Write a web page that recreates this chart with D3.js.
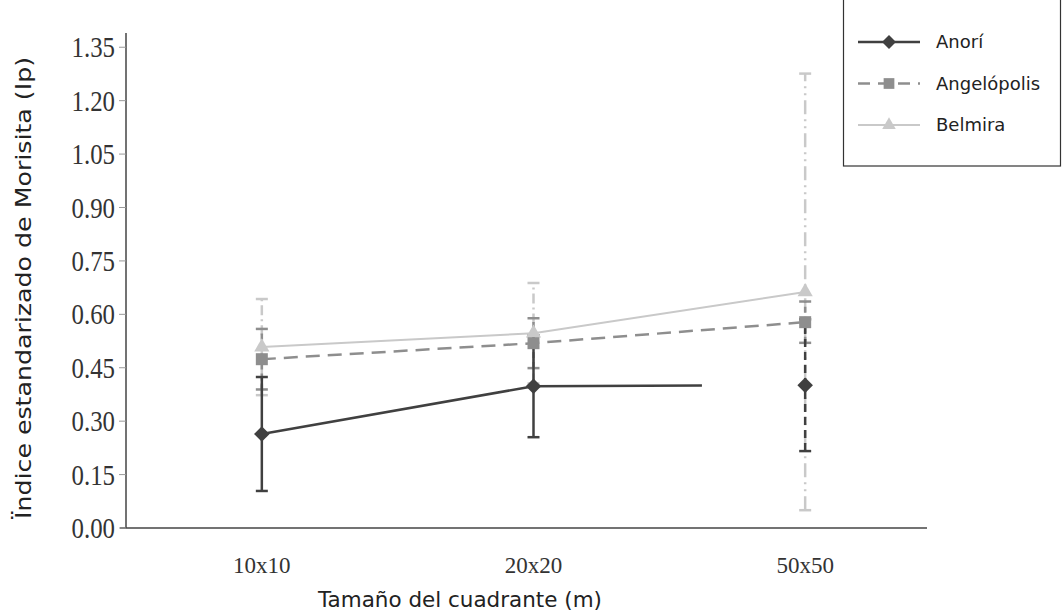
<!DOCTYPE html>
<html lang="es">
  <head>
    <meta charset="utf-8">
    <title>Índice de Morisita</title>
    <style>
      body { margin: 0; background: #fff; }
      svg { display: block; }
      .tick-label { font-family: "Liberation Serif", serif; font-size: 23px; fill: #333; }
      .title { font-family: "DejaVu Sans", sans-serif; font-size: 21px; fill: #222; }
      .legend text { font-family: "DejaVu Sans", sans-serif; font-size: 18px; fill: #222; }
    </style>
  </head>
  <body>
    <script src="https://cdn.jsdelivr.net/npm/d3@7"></script>
    <script>

    var categories = ["10x10", "20x20", "50x50"];
    var yTicks = [0, 0.15, 0.30, 0.45, 0.60, 0.75, 0.90, 1.05, 1.20, 1.35];

    var anori = [0.264, 0.398, 0.401],
        anoriErr = [0.16, 0.143, 0.185];
    var angelopolis = [0.474, 0.519, 0.578],
        angelopolisErr = [0.085, 0.07, 0.058];
    var belmira = [0.508, 0.547, 0.663],
        belmiraErr = [0.135, 0.141, 0.613];

    // the Anorí line stops part way to the last category
    var anoriReach = 0.62;

    var w = 1063, h = 615;

    var svg = d3.select("body").append("svg")
        .attr("width", w)
        .attr("height", h);

    var x = d3.scaleBand().domain(categories).range([126, 941]);
    var y = d3.scaleLinear().domain([0, 1.39]).range([528, 33]);
    var cx = function(c) { return x(c) + x.bandwidth() / 2; };

    // axes
    svg.append("line")
        .attr("x1", 126).attr("x2", 126)
        .attr("y1", y(1.39)).attr("y2", y(0))
        .attr("stroke", "#444").attr("stroke-width", 1.5);
    svg.append("line")
        .attr("x1", 120).attr("x2", 927)
        .attr("y1", y(0)).attr("y2", y(0))
        .attr("stroke", "#444").attr("stroke-width", 1.5);

    svg.selectAll(".ytick").data(yTicks).enter().append("line")
        .attr("x1", 119).attr("x2", 126)
        .attr("y1", function(d) { return y(d); })
        .attr("y2", function(d) { return y(d); })
        .attr("stroke", "#999").attr("stroke-width", 1);

    // y labels in the original are drawn taller than wide
    svg.selectAll(".ylab").data(yTicks).enter().append("text")
        .attr("class", "tick-label")
        .attr("transform", function(d) { return "translate(115," + y(d) + ")scale(1.08,1.25)"; })
        .attr("dy", "0.35em")
        .attr("text-anchor", "end")
        .text(function(d) { return d3.format(".2f")(d); });

    svg.selectAll(".xlab").data(categories).enter().append("text")
        .attr("class", "tick-label")
        .attr("x", cx)
        .attr("y", 565)
        .attr("dy", "0.35em")
        .attr("text-anchor", "middle")
        .text(function(d) { return d; });

    svg.append("text")
        .attr("class", "title")
        .attr("x", 460).attr("y", 607)
        .attr("text-anchor", "middle")
        .attr("textLength", 284)
        .attr("lengthAdjust", "spacingAndGlyphs")
        .text("Tamaño del cuadrante (m)");

    svg.append("text")
        .attr("class", "title")
        .attr("transform", "translate(31,288)rotate(-90)")
        .attr("text-anchor", "middle")
        .attr("textLength", 462)
        .attr("lengthAdjust", "spacingAndGlyphs")
        .text("Ïndice estandarizado de Morisita (Ip)");

    var diamond = { draw: function(ctx, size) {
      var r = Math.sqrt(size / 2);
      ctx.moveTo(0, -r); ctx.lineTo(r, 0); ctx.lineTo(0, r); ctx.lineTo(-r, 0); ctx.closePath();
    } };

    var series = [
      { name: "Belmira", values: belmira, err: belmiraErr, color: "#c9c9c9",
        width: 2, dash: null, marker: d3.symbolTriangle, size: 100,
        errDash: ["10,4,2,4", "10,4,2,4", "14,5,2,5,2,5"] },
      { name: "Angelópolis", values: angelopolis, err: angelopolisErr, color: "#8e8e8e",
        width: 2.5, dash: "14,8", marker: d3.symbolSquare, size: 144,
        errDash: ["6,4", "6,4", "6,4"] },
      { name: "Anorí", values: anori, err: anoriErr, color: "#404040",
        width: 2.5, dash: null, marker: diamond, size: 121,
        errDash: [null, null, "8,5"] }
    ];

    // error bars
    series.forEach(function(s) {
      var g = svg.append("g");
      categories.forEach(function(c, i) {
        var v = s.values[i], e = s.err[i];
        g.append("line")
            .attr("x1", cx(c)).attr("x2", cx(c))
            .attr("y1", y(v - e)).attr("y2", y(v + e))
            .attr("stroke", s.color).attr("stroke-width", 2.5)
            .attr("stroke-dasharray", s.errDash[i]);
        [v - e, v + e].forEach(function(b) {
          g.append("line")
              .attr("x1", cx(c) - 6).attr("x2", cx(c) + 6)
              .attr("y1", y(b)).attr("y2", y(b))
              .attr("stroke", s.color).attr("stroke-width", 2.5);
        });
      });
    });

    // lines
    var line = d3.line()
        .x(function(d) { return d[0]; })
        .y(function(d) { return d[1]; });

    series.forEach(function(s) {
      var pts = categories.map(function(c, i) { return [cx(c), y(s.values[i])]; });
      if (s.name === "Anorí") {
        var a = pts[1], b = pts[2];
        pts = [pts[0], a, [a[0] + (b[0] - a[0]) * anoriReach, a[1] + (b[1] - a[1]) * anoriReach]];
      }
      svg.append("path")
          .attr("d", line(pts))
          .attr("fill", "none")
          .attr("stroke", s.color)
          .attr("stroke-width", s.width)
          .attr("stroke-dasharray", s.dash);
    });

    // markers
    series.forEach(function(s) {
      svg.selectAll(null).data(s.values).enter().append("path")
          .attr("d", d3.symbol().type(s.marker).size(s.size))
          .attr("transform", function(d, i) { return "translate(" + cx(categories[i]) + "," + y(d) + ")"; })
          .attr("fill", s.color);
    });

    // legend
    var legend = svg.append("g").attr("class", "legend");
    legend.append("rect")
        .attr("x", 843.5).attr("y", -2)
        .attr("width", 217).attr("height", 168)
        .attr("fill", "#fff")
        .attr("stroke", "#333").attr("stroke-width", 1.2);

    var order = [series[2], series[1], series[0]];
    order.forEach(function(s, i) {
      var ly = 42 + i * 41.5;
      legend.append("line")
          .attr("x1", 858).attr("x2", 920)
          .attr("y1", ly).attr("y2", ly)
          .attr("stroke", s.color).attr("stroke-width", s.width)
          .attr("stroke-dasharray", s.dash ? "12,8" : null);
      legend.append("path")
          .attr("d", d3.symbol().type(s.marker).size(s.size * 0.8))
          .attr("transform", "translate(889," + ly + ")")
          .attr("fill", s.color);
      legend.append("text")
          .attr("x", 936).attr("y", ly)
          .attr("dy", "0.35em")
          .text(s.name);
    });

    </script>
  </body>
</html>
